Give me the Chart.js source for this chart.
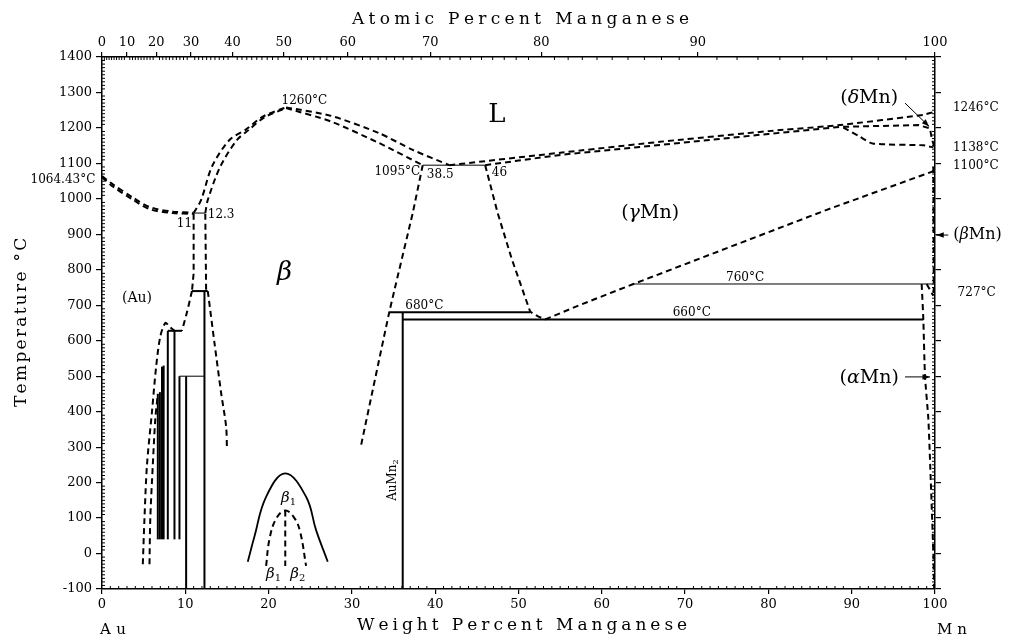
<!DOCTYPE html>
<html>
<head>
<meta charset="utf-8">
<script src="https://cdn.jsdelivr.net/npm/chart.js@4.4.1/dist/chart.umd.min.js"></script>
<style>
  html, body { margin: 0; padding: 0; background: #fff; }
  #wrap { width: 1014px; height: 641px; }
</style>
</head>
<body>
<div id="wrap"><canvas id="phase-chart" width="1014" height="641"></canvas></div>
<script>
// x = weight percent Mn, y = temperature (°C)
const weightTicks = [0, 10, 20, 30, 40, 50, 60, 70, 80, 90, 100];
const tempTicks = [-100, 0, 100, 200, 300, 400, 500, 600, 700, 800, 900, 1000, 1100, 1200, 1300, 1400];
const atomicTickLabels = ['0', '10', '20', '30', '40', '50', '60', '70', '80', '90', '100'];
const atomicTickPos = [0, 3.01, 6.52, 10.68, 15.68, 21.81, 29.50, 39.42, 52.73, 71.51, 100];

// liquidus / solidus, Au side
const auLiquidus = [[0, 1064], [1.3, 1041], [3.7, 1004], [5.7, 977], [8.5, 964], [11.0, 961]];
const auSolidus = [[0, 1061], [1.3, 1035], [3.7, 998], [5.7, 971], [8.5, 960], [11.0, 958]];
const betaLiqLeft = [[11.0, 960], [11.9, 997], [13.2, 1091], [15.3, 1166], [17.3, 1196], [19.3, 1232], [22.1, 1258]];
const betaLiqRight = [[12.4, 960], [12.7, 997], [14.2, 1091], [16.2, 1166], [17.6, 1194], [19.5, 1230], [22.1, 1256]];
const betaLiqDesc = [[22.1, 1258], [27.5, 1234], [33.3, 1185], [37.3, 1138], [41.7, 1095]];
const betaSolDesc = [[22.1, 1256], [27.5, 1218], [33.3, 1157], [38.5, 1095]];
const eutectic1095 = [[38.5, 1095], [46, 1095]];

// Mn side
const gammaLiquidus = [[41.7, 1095], [55, 1130], [67, 1161], [80, 1191], [88.6, 1208], [98.6, 1237], [100, 1246]];
const gammaSolidus = [[46, 1095], [55, 1124], [67, 1152], [80, 1183], [88.6, 1203], [98, 1208], [99.4, 1199], [99.6, 1171], [100, 1140]];
const deltaGamma = [[89, 1201], [91, 1175], [92.5, 1156], [98.6, 1151], [99.8, 1145]];
const gammaSolvus = [[53.2, 660], [57.4, 701], [63.8, 760], [87, 969], [99.8, 1078]];
const gammaMnEdge = [[99.8, 1090], [99.85, 727]];
const betaMnSolvus = [[99.0, 760], [99.8, 727]];
const alphaSolvus = [[98.4, 760], [98.6, 660], [98.8, 500], [99.2, 380], [99.5, 200], [99.8, 0], [99.9, -100]];
const line760 = [[63.8, 760], [100, 760]];
const line680 = [[34.5, 680], [51.4, 680]];
const line660 = [[36.1, 660], [98.6, 660]];
const auMn2Line = [[36.1, 680], [36.1, -100]];
const auMn2Left = [[38.5, 1095], [37.3, 960], [34.5, 682], [31.1, 305]];
const auMn2Right = [[46, 1095], [47.5, 960], [49.2, 830], [51.4, 682], [52.4, 668], [53.2, 660]];

// beta / (Au) region
const congruent960 = [[11.0, 960], [12.4, 960]];
const betaVertLeft = [[11.0, 958], [11.0, 790], [10.8, 740]];
const betaVertRight = [[12.4, 958], [12.5, 740]];
const line740 = [[10.8, 740], [12.7, 740]];
const betaAuRight = [[12.7, 740], [13.5, 594], [14.3, 453], [14.9, 358], [15.0, 297]];
const betaAuLeft = [[10.8, 740], [10.2, 680], [9.6, 628]];
const line628 = [[7.9, 628], [9.6, 628]];
const line500 = [[9.3, 500], [12.3, 500]];
const line12 = [[12.3, 740], [12.3, -100]];
const line10 = [[10.1, 500], [10.1, -100]];
const orderedTops = [[6.7, 450], [6.95, 455], [7.2, 527], [7.4, 530], [7.9, 628], [8.7, 628], [9.3, 500]];
const orderedBottom = 40;
const auSolvusOuter = [[4.9, -30], [5.1, 100], [5.4, 250], [6.0, 400], [6.5, 527], [7.0, 612], [7.6, 650], [8.1, 640], [8.7, 628]];
const auSolvusInner = [[5.7, -30], [5.8, 100], [6.1, 250], [6.4, 380], [6.7, 450]];

// beta1 / beta2 ordering dome
const beta1Dome = [[17.5, -23], [18.3, 48], [19.7, 160], [22.0, 226], [24.5, 160], [25.7, 66], [27.1, -23]];
const beta12Dome = [[19.7, -35], [20.1, 40], [20.9, 98], [22.0, 121], [23.1, 100], [23.8, 60], [24.5, -35]];
const beta12Split = [[22.0, 121], [22.0, -35]];

const SERIF = '"DejaVu Serif", "Liberation Serif", serif';
const DASH = [6, 4];

function curve(points, kind, tension) {
  const ds = {
    data: points.map(p => ({ x: p[0], y: p[1] })),
    showLine: true,
    pointRadius: 0,
    borderColor: '#000',
    backgroundColor: '#000',
    fill: false,
    clip: false,
    tension: tension || 0,
    borderWidth: 1.8
  };
  if (kind === 'dash') { ds.borderDash = DASH; ds.borderWidth = 2; }
  if (kind === 'thin') { ds.borderWidth = 1; }
  if (kind === 'thick') { ds.borderWidth = 2; }
  return ds;
}

const datasets = [
  curve(auLiquidus, 'dash', 0.3),
  curve(auSolidus, 'dash', 0.3),
  curve(betaLiqLeft, 'dash', 0.3),
  curve(betaLiqRight, 'dash', 0.3),
  curve(betaLiqDesc, 'dash', 0.25),
  curve(betaSolDesc, 'dash', 0.25),
  curve(eutectic1095, 'thin'),
  curve(gammaLiquidus, 'dash', 0.1),
  curve(gammaSolidus, 'dash', 0),
  curve(deltaGamma, 'dash', 0.2),
  curve(gammaSolvus, 'dash', 0),
  curve(gammaMnEdge, 'dash'),
  curve(betaMnSolvus, 'dash'),
  curve(alphaSolvus, 'dash', 0.2),
  curve(line760, 'thin'),
  curve(line680, 'thick'),
  curve(line660, 'thick'),
  curve(auMn2Line, 'thick'),
  curve(auMn2Left, 'dash', 0.1),
  curve(auMn2Right, 'dash', 0),
  curve(congruent960, 'thin'),
  curve(betaVertLeft, 'dash'),
  curve(betaVertRight, 'dash'),
  curve(line740, 'thick'),
  curve(betaAuRight, 'dash', 0.3),
  curve(betaAuLeft, 'dash', 0.2),
  curve(line628, 'thick'),
  curve(line500, 'thin'),
  curve(line12, 'thick'),
  curve(line10, 'thick'),
  curve(auSolvusOuter, 'dash', 0.3),
  curve(auSolvusInner, 'dash', 0.3),
  curve(beta1Dome, 'solid', 0.4),
  curve(beta12Dome, 'dash', 0.4),
  curve(beta12Split, 'dash')
];
orderedTops.forEach(p => datasets.push(curve([[p[0], orderedBottom], [p[0], p[1]]], 'thick')));

function atomicToWeight(a) {
  const mn = a * 54.938, au = (100 - a) * 196.967;
  return 100 * mn / (mn + au);
}

// draws text made of plain / italic pieces
function richText(ctx, parts, x, y, size, align) {
  const fonts = parts.map(p => (p.i ? 'italic ' : '') + (p.sub ? Math.round(size * 0.65) : size) + 'px ' + SERIF);
  let total = 0;
  const widths = parts.map((p, k) => { ctx.font = fonts[k]; const w = ctx.measureText(p.t).width; total += w; return w; });
  let cx = align === 'left' ? x : align === 'right' ? x - total : x - total / 2;
  ctx.textAlign = 'left';
  ctx.textBaseline = 'middle';
  parts.forEach((p, k) => {
    ctx.font = fonts[k];
    ctx.fillText(p.t, cx, y + (p.sub ? size * 0.3 : 0));
    cx += widths[k];
  });
}

function spacedText(ctx, str, cx, cy, size, width) {
  ctx.font = size + 'px ' + SERIF;
  const plain = ctx.measureText(str).width;
  const gap = Math.max(0, (width - plain) / (str.length - 1));
  const total = plain + gap * (str.length - 1);
  let x = cx - total / 2;
  ctx.textAlign = 'left';
  ctx.textBaseline = 'middle';
  for (const ch of str) {
    ctx.fillText(ch, x, cy);
    x += ctx.measureText(ch).width + gap;
  }
}

function arrow(ctx, x1, y1, x2, y2) {
  ctx.beginPath();
  ctx.moveTo(x1, y1);
  ctx.lineTo(x2, y2);
  ctx.stroke();
  const a = Math.atan2(y2 - y1, x2 - x1);
  ctx.beginPath();
  ctx.moveTo(x2, y2);
  ctx.lineTo(x2 - 8 * Math.cos(a - 0.35), y2 - 8 * Math.sin(a - 0.35));
  ctx.lineTo(x2 - 8 * Math.cos(a + 0.35), y2 - 8 * Math.sin(a + 0.35));
  ctx.closePath();
  ctx.fill();
}

const annotationPlugin = {
  id: 'phaseAnnotations',
  beforeDraw(chart) {
    const c = chart.ctx;
    c.save();
    c.fillStyle = '#fff';
    c.fillRect(0, 0, chart.width, chart.height);
    c.restore();
  },
  afterDraw(chart) {
    const { ctx, chartArea: a, scales } = chart;
    const X = v => scales.x.getPixelForValue(v);
    const Y = v => scales.y.getPixelForValue(v);
    ctx.save();
    ctx.strokeStyle = '#000';
    ctx.fillStyle = '#000';
    ctx.lineWidth = 1;

    // minor ticks, pointing into the plot
    ctx.beginPath();
    for (let w = 1; w < 100; w++) {
      if (w % 10 === 0) continue;
      ctx.moveTo(X(w), a.bottom); ctx.lineTo(X(w), a.bottom - 3);
    }
    for (let at = 1; at < 100; at++) {
      if (at % 10 === 0) continue;
      const px = X(atomicToWeight(at));
      ctx.moveTo(px, a.top); ctx.lineTo(px, a.top + 3);
    }
    for (let t = -90; t < 1400; t += 10) {
      if (t % 100 === 0) continue;
      ctx.moveTo(a.left, Y(t)); ctx.lineTo(a.left + 3, Y(t));
      ctx.moveTo(a.right, Y(t)); ctx.lineTo(a.right - 3, Y(t));
    }
    ctx.stroke();

    // axis titles
    spacedText(ctx, 'Atomic Percent Manganese', 520, 20, 17, 336);
    spacedText(ctx, 'Weight Percent Manganese', 521, 626, 17, 328);
    ctx.save();
    ctx.translate(22, 323);
    ctx.rotate(-Math.PI / 2);
    spacedText(ctx, 'Temperature °C', 0, 0, 17, 168);
    ctx.restore();
    spacedText(ctx, 'Au', 113, 630, 15, 26);
    spacedText(ctx, 'Mn', 952, 630, 15, 30);

    // plain labels in data coordinates
    const small = [
      ['1260°C', 24.3, 1276, 'center'],
      ['1095°C', 38.2, 1076, 'right'],
      ['38.5', 39.0, 1068, 'left'],
      ['46', 46.8, 1073, 'left'],
      ['11', 9.9, 930, 'center'],
      ['12.3', 12.7, 955, 'left'],
      ['680°C', 38.7, 699, 'center'],
      ['760°C', 77.2, 777, 'center'],
      ['660°C', 70.8, 679, 'center'],
      ['1064.43°C', -0.8, 1053, 'right'],
      ['1246°C', 104.9, 1256, 'center'],
      ['1138°C', 104.9, 1143, 'center'],
      ['1100°C', 104.9, 1093, 'center'],
      ['727°C', 105.0, 735, 'center']
    ];
    ctx.font = '12px ' + SERIF;
    ctx.textBaseline = 'middle';
    small.forEach(s => {
      ctx.textAlign = s[3];
      ctx.fillText(s[0], X(s[1]), Y(s[2]));
    });

    richText(ctx, [{ t: 'L' }], X(47.4), Y(1236), 26, 'center');
    richText(ctx, [{ t: '(Au)' }], X(4.2), Y(720), 14, 'center');
    richText(ctx, [{ t: 'β', i: true }], X(21.9), Y(790), 26, 'center');
    richText(ctx, [{ t: '(' }, { t: 'γ', i: true }, { t: 'Mn)' }], X(65.8), Y(960), 19, 'center');
    richText(ctx, [{ t: '(' }, { t: 'δ', i: true }, { t: 'Mn)' }], X(92.1), Y(1284), 19, 'center');
    richText(ctx, [{ t: '(' }, { t: 'α', i: true }, { t: 'Mn)' }], X(92.1), Y(495), 19, 'center');
    richText(ctx, [{ t: '(' }, { t: 'β', i: true }, { t: 'Mn)' }], X(105.1), Y(898), 16, 'center');
    richText(ctx, [{ t: 'β', i: true }, { t: '1', sub: true }], X(22.4), Y(157), 15, 'center');
    richText(ctx, [{ t: 'β', i: true }, { t: '1', sub: true }], X(20.6), Y(-58), 15, 'center');
    richText(ctx, [{ t: 'β', i: true }, { t: '2', sub: true }], X(23.5), Y(-58), 15, 'center');

    // AuMn2 compound label, read bottom to top
    ctx.save();
    ctx.translate(X(34.9), Y(207));
    ctx.rotate(-Math.PI / 2);
    richText(ctx, [{ t: 'AuMn' }, { t: '2', sub: true }], 0, 0, 12, 'center');
    ctx.restore();

    // arrows
    ctx.lineWidth = 1;
    arrow(ctx, X(96.4), Y(1270), X(99.3), Y(1204));
    arrow(ctx, X(96.4), Y(498), X(99.4), Y(498));
    arrow(ctx, X(101.6), Y(898), X(100.15), Y(898));
    ctx.restore();
  }
};

const tickFont = { family: SERIF, size: 13 };
const plainLabel = v => String(v);

new Chart(document.getElementById('phase-chart').getContext('2d'), {
  type: 'scatter',
  data: { datasets },
  options: {
    responsive: false,
    animation: false,
    devicePixelRatio: 1,
    layout: { padding: 0 },
    plugins: { legend: { display: false }, tooltip: { enabled: false } },
    scales: {
      x: {
        type: 'linear', position: 'bottom', min: 0, max: 100,
        afterBuildTicks: s => { s.ticks = weightTicks.map(v => ({ value: v })); },
        afterFit: s => { s.height = 52; },
        ticks: { color: '#000', font: tickFont, padding: 3, maxRotation: 0, autoSkip: false, callback: plainLabel },
        grid: { drawOnChartArea: false, tickLength: 5, color: '#000', lineWidth: 1.2 },
        border: { color: '#000', width: 1.5 }
      },
      xTop: {
        type: 'linear', position: 'top', min: 0, max: 100,
        afterBuildTicks: s => { s.ticks = atomicTickPos.map(v => ({ value: v })); },
        afterFit: s => { s.height = 57; },
        ticks: {
          color: '#000', font: tickFont, padding: 2, maxRotation: 0, autoSkip: false,
          callback: (v, i) => atomicTickLabels[i]
        },
        grid: { drawOnChartArea: false, tickLength: 5, color: '#000', lineWidth: 1.2 },
        border: { color: '#000', width: 1.5 }
      },
      y: {
        type: 'linear', position: 'left', min: -100, max: 1400,
        afterBuildTicks: s => { s.ticks = tempTicks.map(v => ({ value: v })); },
        afterFit: s => { s.width = 102; },
        ticks: { color: '#000', font: tickFont, padding: 4, callback: plainLabel },
        grid: { drawOnChartArea: false, tickLength: 6, color: '#000', lineWidth: 1.2 },
        border: { color: '#000', width: 1.5 }
      },
      yRight: {
        type: 'linear', position: 'right', min: -100, max: 1400,
        afterBuildTicks: s => { s.ticks = tempTicks.map(v => ({ value: v })); },
        afterFit: s => { s.width = 79; },
        ticks: { display: false },
        grid: { drawOnChartArea: false, tickLength: 6, color: '#000', lineWidth: 1.2 },
        border: { color: '#000', width: 1.5 }
      }
    }
  },
  plugins: [annotationPlugin]
});
</script>
</body>
</html>
